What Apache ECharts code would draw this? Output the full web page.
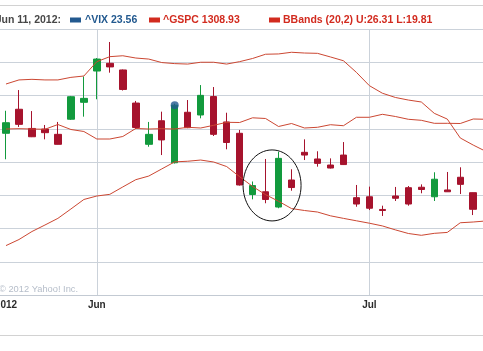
<!DOCTYPE html>
<html>
<head>
<meta charset="utf-8">
<script src="https://cdn.jsdelivr.net/npm/echarts@6/dist/echarts.min.js"></script>
<style>
  html, body { margin: 0; padding: 0; background: #fff; }
  #chart { width: 483px; height: 351px; }
</style>
</head>
<body>
<div id="chart"></div>
<script>
// trading days shown (Jul 16 only carries the line studies, it sits past the right edge)
var dates = ['May 22', 'May 23', 'May 24', 'May 25', 'May 29', 'May 30', 'May 31',
  'Jun 1', 'Jun 4', 'Jun 5', 'Jun 6', 'Jun 7', 'Jun 8', 'Jun 11', 'Jun 12', 'Jun 13',
  'Jun 14', 'Jun 15', 'Jun 18', 'Jun 19', 'Jun 20', 'Jun 21', 'Jun 22', 'Jun 25',
  'Jun 26', 'Jun 27', 'Jun 28', 'Jun 29', 'Jul 2', 'Jul 3', 'Jul 5', 'Jul 6', 'Jul 9',
  'Jul 10', 'Jul 11', 'Jul 12', 'Jul 13', 'Jul 16'];

// ^VIX daily candles
var vixOpen = [21.70, 23.29, 22.02, 21.98, 21.63, 22.63, 23.75, 25.82, 26.33, 25.89,
  23.70, 20.97, 22.53, 19.75, 23.09, 22.91, 24.13, 22.45, 21.70, 17.65, 17.83, 16.82,
  18.61, 20.44, 20.00, 19.60, 20.26, 17.44, 17.50, 16.66, 17.55, 18.10, 18.13, 17.50,
  17.95, 18.79, 17.77];
var vixClose = [22.40, 22.29, 21.47, 21.74, 20.97, 24.12, 24.01, 26.61, 26.09, 24.60,
  22.08, 21.63, 21.26, 23.56, 22.07, 24.21, 21.63, 21.09, 18.28, 18.24, 17.32, 20.04,
  18.11, 20.26, 19.71, 19.40, 19.63, 17.02, 16.74, 16.59, 17.40, 17.02, 17.98, 18.66,
  17.83, 18.32, 16.67];
var vixLow = [19.98, 22.12, 21.45, 21.30, 20.96, 22.58, 22.80, 23.95, 25.71, 24.53,
  21.98, 20.81, 20.26, 19.70, 22.04, 22.69, 21.52, 20.64, 18.24, 17.33, 17.07, 16.74,
  17.90, 19.93, 19.49, 19.37, 19.60, 16.84, 16.62, 16.23, 17.22, 16.91, 17.73, 17.22,
  17.82, 17.68, 16.29];
var vixHigh = [23.19, 24.56, 23.17, 22.25, 22.45, 24.17, 25.46, 26.68, 27.74, 25.92,
  23.84, 22.45, 23.13, 23.66, 23.90, 24.89, 24.76, 23.06, 21.92, 18.51, 20.00, 20.48,
  19.32, 21.30, 20.51, 20.04, 21.12, 18.28, 18.17, 16.91, 18.15, 18.21, 18.32, 19.12,
  19.14, 19.45, 17.78];

// ^GSPC comparison
var gspc = [1309.0, 1310.2, 1309.0, 1307.9, 1326.6, 1307.1, 1299.3, 1269.9, 1269.9,
  1279.7, 1311.0, 1309.0, 1310.2, 1308.93, 1315.7, 1312.9, 1323.5, 1335.2, 1334.4,
  1352.8, 1350.1, 1318.8, 1330.5, 1312.9, 1315.7, 1325.8, 1321.9, 1354.8, 1354.8,
  1366.5, 1357.9, 1347.0, 1343.0, 1331.3, 1331.3, 1330.5, 1348.1, 1347.0];

// Bollinger bands (20,2) on ^VIX
var bbUpper = [24.96, 25.23, 25.27, 25.23, 25.23, 25.40, 25.49, 26.44, 26.77, 26.83,
  26.68, 26.61, 26.38, 26.31, 26.28, 26.40, 26.40, 26.28, 26.44, 26.65, 26.93, 26.95,
  27.06, 27.01, 26.99, 26.75, 26.50, 25.73, 24.85, 24.35, 24.07, 23.90, 23.77, 23.02,
  22.64, 21.39, 20.92, 20.49];
var bbLower = [14.27, 14.67, 15.20, 15.63, 16.07, 16.69, 17.32, 17.55, 17.66, 18.15,
  18.63, 18.87, 19.34, 19.81, 19.85, 19.93, 19.80, 19.50, 18.83, 18.18, 17.64, 17.20,
  16.72, 16.59, 16.49, 16.24, 16.07, 15.91, 15.75, 15.57, 15.31, 15.07, 14.95, 15.08,
  15.14, 15.78, 15.83, 15.90];

var monthLabels = { 'May 22': '2012', 'Jun 1': 'Jun', 'Jul 2': 'Jul' };
var markDate = 'Jun 11';
var markIdx = dates.indexOf(markDate);

var GREEN = '#129a3d';
var RED = '#a6132d';
var BAND = '#cb4732';
var BLUE = '#22598f';
var LEG_RED = '#d22b1f';
var GRID = '#cbd2da';
var FONT = '"Liberation Sans", Arial, sans-serif';

var candles = dates.map(function (d, i) {
  if (i >= vixOpen.length) return '-';
  return [vixOpen[i], vixClose[i], vixLow[i], vixHigh[i]];
});

var chart = echarts.init(document.getElementById('chart'));

function isMonthStart(idx, value) {
  return monthLabels.hasOwnProperty(value);
}

chart.setOption({
  animation: false,
  backgroundColor: '#fff',
  textStyle: { fontFamily: FONT },
  grid: {
    left: -0.5,
    right: -9.7,
    top: 29,
    bottom: 56,
    containLabel: false,
    outerBoundsMode: 'none'
  },
  xAxis: {
    type: 'category',
    data: dates,
    boundaryGap: true,
    axisLine: { lineStyle: { color: '#c3cad3', width: 1 } },
    axisTick: {
      show: true,
      inside: true,
      length: 266,
      alignWithLabel: true,
      interval: function (idx, value) {
        return value === 'Jun 1' || value === 'Jul 2';
      },
      lineStyle: { color: GRID }
    },
    axisLabel: {
      interval: isMonthStart,
      formatter: function (v) { return monthLabels[v] || ''; },
      color: '#2b2b2b',
      fontWeight: 'bold',
      fontSize: 10,
      fontFamily: FONT,
      margin: 5,
      padding: [0, 0, 0, 0]
    },
    splitLine: { show: false }
  },
  yAxis: [{
    type: 'value',
    position: 'right',
    min: 11,
    max: 28.6,
    interval: 2.2,
    axisLine: { show: false },
    axisTick: { show: false },
    axisLabel: { show: false },
    splitLine: { lineStyle: { color: GRID, width: 1 } }
  }, {
    type: 'value',
    show: false,
    min: 660,
    max: 1700,
    splitLine: { show: false }
  }],
  series: [
    {
      name: '^VIX',
      type: 'candlestick',
      data: candles,
      barWidth: 7,
      z: 3,
      itemStyle: {
        color: GREEN,
        color0: RED,
        borderColor: GREEN,
        borderColor0: RED,
        borderWidth: 1
      }
    },
    {
      name: '^GSPC',
      type: 'line',
      yAxisIndex: 1,
      data: gspc,
      symbol: 'none',
      z: 4,
      lineStyle: { color: BAND, width: 1 }
    },
    {
      name: 'BBands (20,2)',
      type: 'line',
      data: bbUpper,
      symbol: 'none',
      z: 4,
      lineStyle: { color: BAND, width: 1 }
    },
    {
      name: 'BBands (20,2)',
      type: 'line',
      data: bbLower,
      symbol: 'none',
      z: 4,
      lineStyle: { color: BAND, width: 1 }
    },
    {
      name: 'marker',
      type: 'scatter',
      data: dates.map(function (d, i) { return i === markIdx ? vixClose[i] : '-'; }),
      symbolSize: 8,
      z: 5,
      itemStyle: { color: BLUE }
    }
  ]
});

// header, frame and the hand drawn ellipse round the Jun 19 - Jun 22 candles
var left = chart.convertToPixel({ xAxisIndex: 0, yAxisIndex: 0 }, [dates[20], 18.25]);
var right = chart.convertToPixel({ xAxisIndex: 0, yAxisIndex: 0 }, [dates[21], 18.25]);
var cx = (left[0] + right[0]) / 2;
var cy = left[1];

var hdrFont = 'bold 10.5px ' + FONT;
chart.setOption({
  graphic: [
    { type: 'line', shape: { x1: 0, y1: 5.5, x2: 483, y2: 5.5 }, style: { stroke: '#d2d2d2', lineWidth: 1 } },
    { type: 'line', shape: { x1: 0, y1: 335.5, x2: 483, y2: 335.5 }, style: { stroke: '#d2d2d2', lineWidth: 1 } },
    { type: 'text', x: 61, y: 20, style: { text: markDate + ', 2012:', font: hdrFont, fill: '#474747', textAlign: 'right', textVerticalAlign: 'middle' } },
    { type: 'rect', shape: { x: 70, y: 17.5, width: 11, height: 5 }, style: { fill: BLUE } },
    { type: 'text', x: 85, y: 20, style: { text: '^VIX ' + vixClose[markIdx].toFixed(2), font: hdrFont, fill: BLUE, textVerticalAlign: 'middle' } },
    { type: 'rect', shape: { x: 149, y: 17.5, width: 11, height: 5 }, style: { fill: LEG_RED } },
    { type: 'text', x: 163, y: 20, style: { text: '^GSPC ' + gspc[markIdx].toFixed(2), font: hdrFont, fill: LEG_RED, textVerticalAlign: 'middle' } },
    { type: 'rect', shape: { x: 269, y: 17.5, width: 11, height: 5 }, style: { fill: LEG_RED } },
    { type: 'text', x: 283, y: 20, style: { text: 'BBands (20,2) U:' + bbUpper[markIdx].toFixed(2) + ' L:' + bbLower[markIdx].toFixed(2), font: hdrFont, fill: LEG_RED, textVerticalAlign: 'middle' } },
    { type: 'text', x: -1, y: 289, style: { text: '\u00a9 2012 Yahoo! Inc.', font: '9.3px ' + FONT, fill: '#b5bdc9', textVerticalAlign: 'middle' } },
    { type: 'ellipse', shape: { cx: cx, cy: cy, rx: 29, ry: 35.5 }, style: { fill: 'none', stroke: '#111', lineWidth: 1 }, z: 10 }
  ]
});
</script>
</body>
</html>
